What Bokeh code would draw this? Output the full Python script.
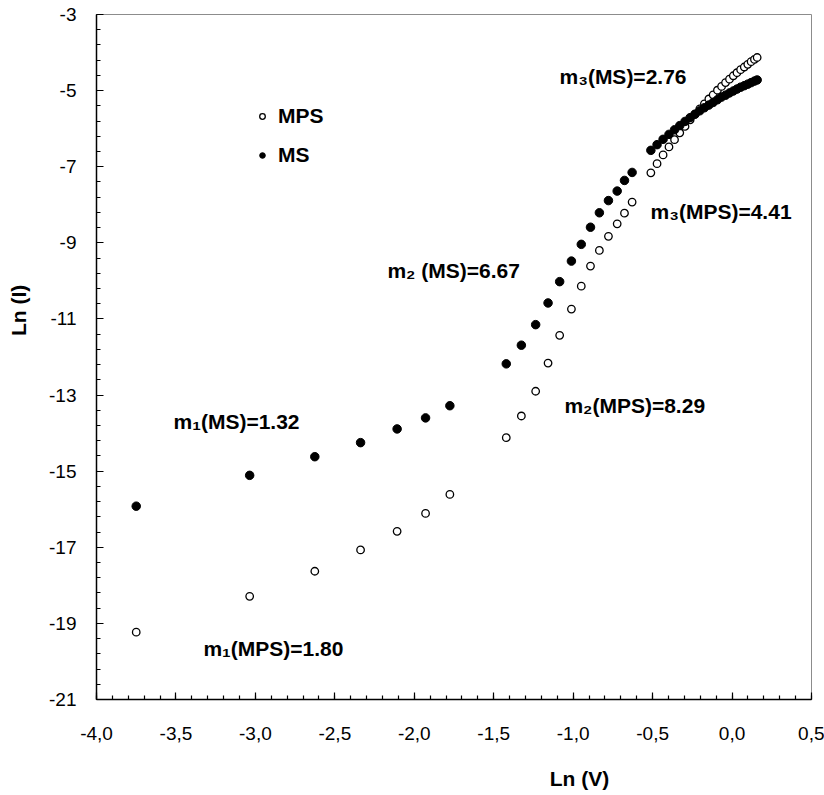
from bokeh.plotting import figure
from bokeh.models import (Range1d, FixedTicker, Label, Legend, LegendItem)
from bokeh.embed import file_html
from bokeh.resources import INLINE

# ---------------- data ----------------
ln_v = [-3.750, -3.036, -2.626, -2.338, -2.108, -1.929, -1.776,
        -1.421, -1.326, -1.236, -1.158, -1.085, -1.011, -0.949, -0.891,
        -0.835, -0.778, -0.723, -0.677, -0.629,
        -0.511, -0.472, -0.434, -0.397, -0.362, -0.329, -0.296, -0.264,
        -0.233, -0.203, -0.174, -0.146, -0.119, -0.092, -0.066, -0.041,
        -0.016, 0.008, 0.031, 0.054, 0.077, 0.099, 0.120, 0.141, 0.158]

ln_i_ms = [-15.92, -15.11, -14.62, -14.25, -13.89, -13.60, -13.28,
           -12.18, -11.69, -11.15, -10.58, -10.02, -9.48, -9.04, -8.59,
           -8.21, -7.89, -7.64, -7.36, -7.15,
           -6.57, -6.42, -6.28, -6.15, -6.03, -5.92, -5.81, -5.71,
           -5.62, -5.53, -5.45, -5.38, -5.31, -5.24, -5.17, -5.12,
           -5.06, -5.01, -4.96, -4.91, -4.87, -4.83, -4.79, -4.75, -4.72]

ln_i_mps = [-19.23, -18.29, -17.63, -17.07, -16.58, -16.11, -15.61,
            -14.12, -13.55, -12.90, -12.16, -11.43, -10.74, -10.14, -9.61,
            -9.20, -8.83, -8.50, -8.22, -7.93,
            -7.16, -6.92, -6.69, -6.48, -6.29, -6.11, -5.94, -5.77,
            -5.62, -5.48, -5.35, -5.22, -5.11, -4.99, -4.89, -4.79,
            -4.70, -4.61, -4.53, -4.45, -4.38, -4.31, -4.24, -4.18, -4.13]

x_ticks = [-4.0, -3.5, -3.0, -2.5, -2.0, -1.5, -1.0, -0.5, 0.0, 0.5]
x_tick_labels = ["-4,0", "-3,5", "-3,0", "-2,5", "-2,0", "-1,5", "-1,0", "-0,5", "0,0", "0,5"]
y_ticks = [-21, -19, -17, -15, -13, -11, -9, -7, -5, -3]
y_tick_labels = ["-21", "-19", "-17", "-15", "-13", "-11", "-9", "-7", "-5", "-3"]

series_names = ["MPS", "MS"]

# slope annotations: text, x, y (data units)
ann_text = ["m\u2083(MS)=2.76", "m\u2083(MPS)=4.41", "m\u2082 (MS)=6.67",
            "m\u2082(MPS)=8.29", "m\u2081(MS)=1.32", "m\u2081(MPS)=1.80"]
ann_x = [-1.086, -0.513, -2.169, -1.055, -3.515, -3.327]
ann_y = [-4.63, -8.18, -9.73, -13.27, -13.69, -19.66]

x_title = "Ln (V)"
y_title = "Ln (I)"

# ---------------- figure ----------------
FONT = "Liberation Sans"
NBSP = "\u00a0"

p = figure(width=824, height=795, output_backend="svg", toolbar_location=None,
           x_range=Range1d(-4.0, 0.5), y_range=Range1d(-21, -3),
           min_border_left=96, min_border_right=13, min_border_top=14,
           min_border_bottom=96)
p.background_fill_color = "white"
p.border_fill_color = "white"
p.outline_line_color = "#8c8c8c"
p.outline_line_width = 1
p.xgrid.visible = False
p.ygrid.visible = False

x_minor = [round(-4.0 + 0.1 * k, 1) for k in range(46)]
y_minor = [round(-21 + 0.4 * k, 1) for k in range(46)]
p.xaxis.ticker = FixedTicker(ticks=x_ticks, minor_ticks=x_minor)
p.yaxis.ticker = FixedTicker(ticks=y_ticks, minor_ticks=y_minor)
p.xaxis.major_label_overrides = {float(t): s for t, s in zip(x_ticks, x_tick_labels)}
p.yaxis.major_label_overrides = {float(t): s for t, s in zip(y_ticks, y_tick_labels)}

for ax in (p.xaxis[0], p.yaxis[0]):
    ax.axis_line_color = "black"
    ax.axis_line_width = 1.5
    ax.major_tick_line_color = "black"
    ax.minor_tick_line_color = "black"
    ax.major_tick_line_width = 1.2
    ax.minor_tick_line_width = 1.2
    ax.major_tick_in = 7
    ax.major_tick_out = 0
    ax.minor_tick_in = 4
    ax.minor_tick_out = 0
    ax.major_label_text_font = FONT
    ax.major_label_text_font_size = "19px"
    ax.major_label_text_color = "black"
    ax.axis_label_text_font = FONT
    ax.axis_label_text_font_style = "bold"
    ax.axis_label_text_font_size = "21px"
    ax.axis_label_text_color = "black"

p.xaxis.major_label_standoff = 27
p.yaxis.major_label_standoff = 20

# axis titles sit off-centre in the reference: pad them with no-break spaces
p.xaxis.axis_label = NBSP * 43 + x_title
p.xaxis.axis_label_standoff = 24
p.yaxis.axis_label = NBSP * 16 + y_title
p.yaxis.axis_label_standoff = 16

mps = p.scatter(ln_v, ln_i_mps, marker="circle", size=7.5, fill_color="white",
                line_color="black", line_width=1.3)
ms = p.scatter(ln_v, ln_i_ms, marker="circle", size=8.5, fill_color="black",
               line_color="black", line_width=1)

legend = Legend(items=[LegendItem(label=series_names[0], renderers=[mps]),
                       LegendItem(label=series_names[1], renderers=[ms])],
                location=(159, 532), padding=0, margin=0, spacing=15,
                glyph_width=14, glyph_height=20, label_height=20,
                label_standoff=9, border_line_alpha=0, background_fill_alpha=0,
                label_text_font=FONT, label_text_font_style="bold",
                label_text_font_size="21px", label_text_color="black")
p.add_layout(legend, "center")

for t, x, y in zip(ann_text, ann_x, ann_y):
    p.add_layout(Label(x=x, y=y, text=t, text_font=FONT, text_font_style="bold",
                       text_font_size="21px", text_align="left",
                       text_baseline="middle", text_color="black"))

open("out.html", "w").write(file_html(p, INLINE))
